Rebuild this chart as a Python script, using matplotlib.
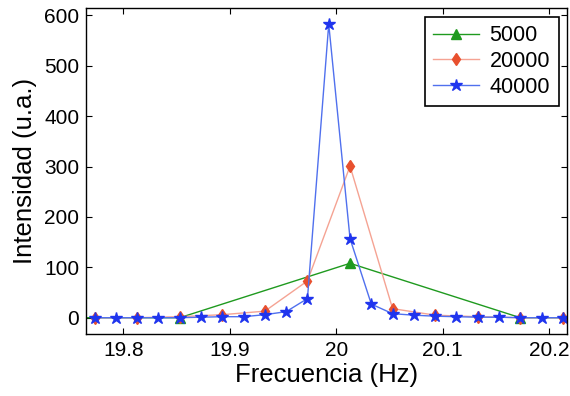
import matplotlib
matplotlib.use("Agg")
import matplotlib.pyplot as plt

plt.rcParams["font.family"] = ["Liberation Sans", "DejaVu Sans"]

# frequency grid (Hz)
freq_40000 = [19.773, 19.793, 19.813, 19.833, 19.853, 19.873, 19.893, 19.913,
              19.933, 19.953, 19.973, 19.993, 20.013, 20.033, 20.053, 20.073,
              20.093, 20.113, 20.133, 20.153, 20.173, 20.193, 20.213]
int_40000 = [0, 0, 0, 0, 0, 1, 2, 2, 6, 12, 38, 583, 157, 27, 8, 5, 3, 2, 1, 1, 0, 0, 0]

freq_20000 = [19.773, 19.813, 19.853, 19.893, 19.933, 19.973, 20.013, 20.053,
              20.093, 20.133, 20.173, 20.213]
int_20000 = [0, 0, 2, 6, 13, 73, 301, 18, 5, 2, 0, 0]

freq_5000 = [19.693, 19.853, 20.013, 20.173, 20.333]
int_5000 = [0, 0, 108, 0, 0]

xticks = [19.8, 19.9, 20.0, 20.1, 20.2]
xticklabels = ["19.8", "19.9", "20", "20.1", "20.2"]
yticks = [0, 100, 200, 300, 400, 500, 600]

fig = plt.figure(figsize=(5.7, 3.96), dpi=100)
ax = fig.add_axes([0.151, 0.157, 0.844, 0.823])

ax.plot(freq_5000, int_5000, color="#1f9a1f", linewidth=1.0, marker="^",
        markersize=7, markerfacecolor="#1f9a1f", markeredgecolor="#1f9a1f",
        label="5000")
ax.plot(freq_20000, int_20000, color="#f5a393", linewidth=1.0, marker="d",
        markersize=6, markerfacecolor="#e8502e", markeredgecolor="#e8502e",
        label="20000")
ax.plot(freq_40000, int_40000, color="#5070ee", linewidth=1.0, marker="*",
        markersize=9, markerfacecolor="#2035ee", markeredgecolor="#2035ee",
        label="40000")

ax.set_xlim(19.765, 20.217)
ax.set_ylim(-32, 615)
ax.set_xticks(xticks)
ax.set_xticklabels(xticklabels)
ax.set_yticks(yticks)
ax.tick_params(direction="in", length=4, width=0.8, labelsize=15,
               top=True, right=True, pad=5)
for s in ax.spines.values():
    s.set_linewidth(1.0)

ax.set_xlabel("Frecuencia (Hz)", fontsize=18.5, labelpad=2)
ax.set_ylabel("Intensidad (u.a.)", fontsize=18.5, labelpad=5)

leg = ax.legend(loc="upper right", fontsize=15.5, fancybox=False, framealpha=1,
                edgecolor="black", borderaxespad=0.4, handlelength=2.1,
                labelspacing=0.22, borderpad=0.4, handletextpad=0.5)
leg.get_frame().set_linewidth(1.2)

fig.savefig("out.png", dpi=100)
